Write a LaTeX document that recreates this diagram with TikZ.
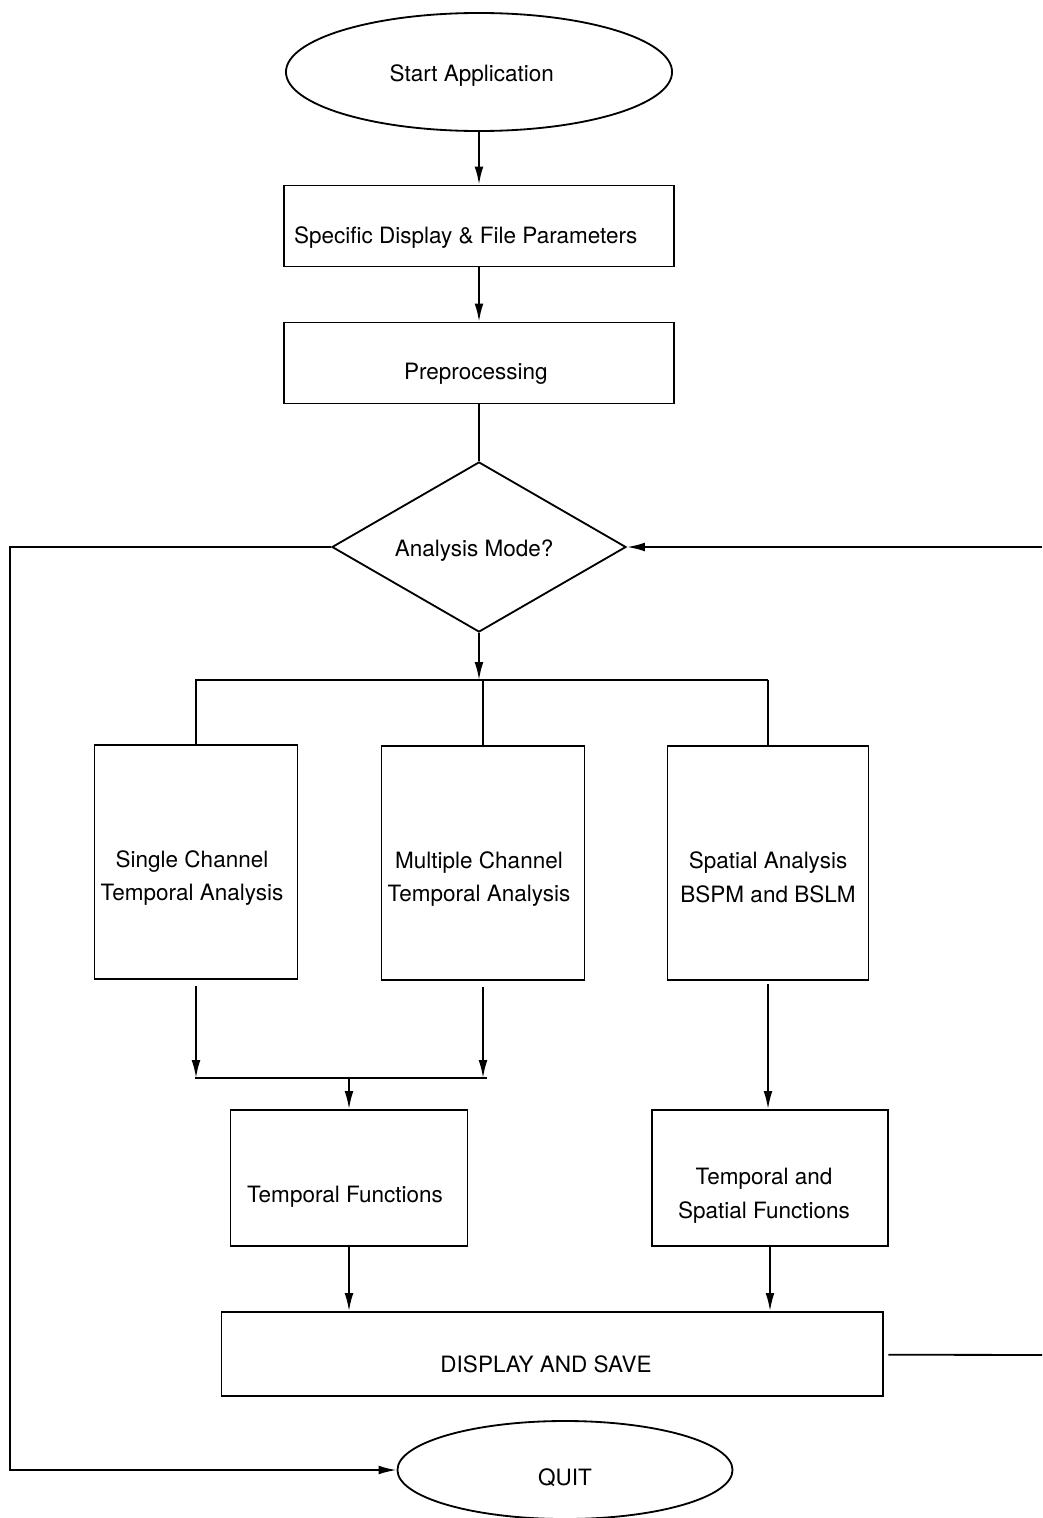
\documentclass[tikz,border=0pt]{standalone}
\usepackage{fontspec}
\setmainfont{TeX Gyre Heros}
\usepackage{tikz}
\usetikzlibrary{shapes.geometric}
\usetikzlibrary{arrows.meta}
\tikzset{
	block/.style={rectangle,draw,line width=1.3pt},
	term/.style={ellipse,draw,line width=1.3pt},
	decision/.style={diamond,draw,line width=1.3pt,inner sep=0pt},
	txt/.style={align=center,font=\fontsize{16}{24}\selectfont},
	link/.style={line width=1.3pt}
}

\begin{document}
\begin{tikzpicture}[x=0.025cm,y=-0.025cm,>={Latex[length=4.5mm,width=2.2mm]}]
		\useasboundingbox (0,0) rectangle (1042,1518);
		\node [term,minimum width=9.65cm,minimum height=2.95cm,
			label={[txt,xshift=-0.18cm,yshift=-0.08cm]center:Start Application}] (start) at (479,72) {};
		\node [block,minimum width=9.75cm,minimum height=2.025cm,
			label={[txt,xshift=-0.33cm,yshift=-0.28cm]center:Specific Display \& File Parameters}] (params) at (479,226) {};
		\node [block,minimum width=9.75cm,minimum height=2.025cm,
			label={[txt,xshift=-0.08cm,yshift=-0.28cm]center:Preprocessing}] (prep) at (479,363) {};
		\node [decision,minimum width=7.35cm,minimum height=4.25cm,
			label={[txt,xshift=-0.12cm,yshift=-0.08cm]center:Analysis Mode?}] (mode) at (479,547) {};
		\node [block,minimum width=5.075cm,minimum height=5.85cm,
			label={[txt,xshift=-0.1cm,yshift=-0.4cm]center:Single Channel\\Temporal Analysis}] (single) at (196,862) {};
		\node [block,minimum width=5.075cm,minimum height=5.85cm,
			label={[txt,xshift=-0.1cm,yshift=-0.4cm]center:Multiple Channel\\Temporal Analysis}] (multi) at (483,863) {};
		\node [block,minimum width=5.025cm,minimum height=5.85cm,
			label={[txt,yshift=-0.35cm]center:Spatial Analysis\\BSPM and BSLM}] (spatial) at (768,863) {};
		\node [block,minimum width=5.925cm,minimum height=3.4cm,
			label={[txt,xshift=-0.1cm,yshift=-0.48cm]center:Temporal Functions}] (tempfn) at (349,1178) {};
		\node [block,minimum width=5.9cm,minimum height=3.4cm,
			label={[txt,xshift=-0.15cm,yshift=-0.45cm]center:Temporal and\\Spatial Functions}] (tsfn) at (770,1178) {};
		\node [block,minimum width=16.525cm,minimum height=2.1cm,
			label={[txt,xshift=-0.15cm,yshift=-0.25cm]center:DISPLAY AND SAVE}] (save) at (552,1354) {};
		\node [term,minimum width=8.375cm,minimum height=2.45cm,
			label={[txt,yshift=-0.2cm]center:QUIT}] (quit) at (565,1470) {};
		\coordinate (bus) at (479,680);
		\coordinate (busl) at (195,680);
		\coordinate (busr) at (768,680);
		\coordinate (bus2) at (349,1078);
		\coordinate (bus2l) at (195,1078);
		\coordinate (bus2r) at (487,1078);
		\coordinate (lb) at (10,1470);
		\coordinate (rt) at (1042,547);
		\coordinate (rb) at (1042,1355);
		\draw [link,->] (start) -- (params);
		\draw [link,->] (params) -- (prep);
		\draw [link] (prep) -- (mode);
		\draw [link,->] (mode) -- (bus);
		\draw [link] (busl) -- (busr);
		\draw [link] (single.north |- bus) -- (single.north);
		\draw [link] (multi.north |- bus) -- (multi.north);
		\draw [link] (spatial.north |- bus) -- (spatial.north);
		\draw [link,->] ([yshift=-0.15cm]single.south) -- (single.south |- bus2);
		\draw [link,->] ([yshift=-0.15cm]multi.south) -- (multi.south |- bus2);
		\draw [link] (bus2l) -- (bus2r);
		\draw [link,->] (bus2) -- (tempfn);
		\draw [link,->] ([yshift=-0.08cm]spatial.south) -- (spatial.south |- tsfn.north);
		\draw [link,->] (tempfn) -- (tempfn.south |- save.north);
		\draw [link,->] (tsfn) -- (tsfn.south |- save.north);
		\draw [link,shorten <=0.12cm] (save) -- (rb);
		\draw [link,->] (rt) -- (mode);
		\draw [link,->] (mode) -| (lb) -- (quit);
\end{tikzpicture}
\end{document}
